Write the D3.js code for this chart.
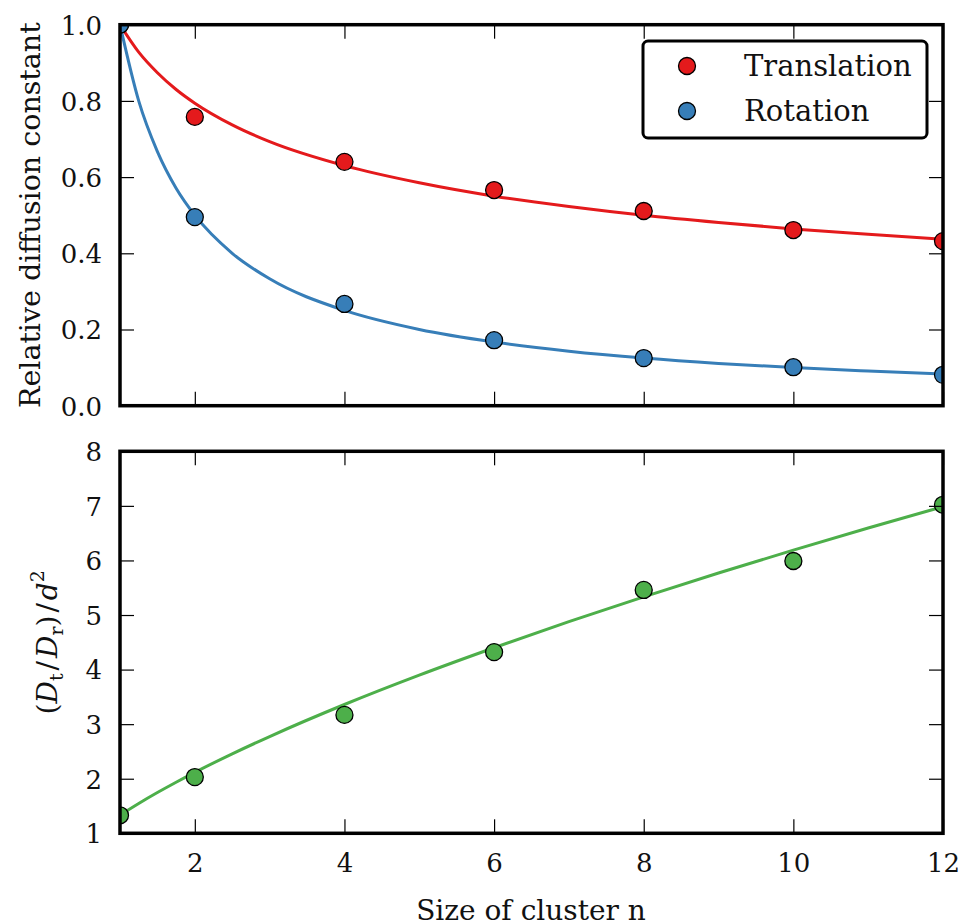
<!DOCTYPE html>
<html>
<head>
<meta charset="utf-8">
<script src="https://cdn.jsdelivr.net/npm/d3@7"></script>
<style>
  body { margin: 0; background: #fff; }
  svg text { font-family: "DejaVu Serif", serif; fill: #111; }
</style>
</head>
<body>
<svg id="chart" width="962" height="924"></svg>
<script>
// measured points
const sizes = [1, 2, 4, 6, 8, 10, 12];
const translation = [1.0, 0.758, 0.640, 0.566, 0.511, 0.461, 0.432];
const rotation = [1.0, 0.495, 0.267, 0.172, 0.125, 0.101, 0.081];
const ratio = [1.33, 2.03, 3.17, 4.32, 5.46, 5.99, 7.02];

// fitted curves
const fitN = [1, 1.25, 1.5, 1.75, 2, 2.5, 3, 4, 5, 6, 7, 8, 9, 10, 11, 12];
const fitTranslation = [1.0, 0.928, 0.874, 0.830, 0.794, 0.737, 0.693, 0.630, 0.585, 0.550, 0.523, 0.500, 0.481, 0.464, 0.450, 0.437];
const fitRotation = [1.0, 0.800, 0.667, 0.571, 0.500, 0.400, 0.333, 0.250, 0.200, 0.167, 0.143, 0.125, 0.111, 0.100, 0.091, 0.083];
const fitRatio = [1.333, 1.547, 1.747, 1.936, 2.117, 2.456, 2.773, 3.360, 3.898, 4.400, 4.878, 5.333, 5.769, 6.189, 6.594, 6.987];

const xTicks = [2, 4, 6, 8, 10, 12];
const topTicks = [0.0, 0.2, 0.4, 0.6, 0.8, 1.0];
const bottomTicks = [1, 2, 3, 4, 5, 6, 7, 8];

const red = '#e41a1c', blue = '#377eb8', green = '#4daf4a';

const svg = d3.select('#chart');
const left = 120, right = 943;

const x = d3.scaleLinear().domain([1, 12]).range([left, right]);

function panel(id, top, bottom, domain, ticks, fmt, showX){
    const y = d3.scaleLinear().domain(domain).range([bottom, top]);
    const g = svg.append('g');

    g.append('clipPath').attr('id', id)
        .append('rect')
        .attr('x', left).attr('y', top)
        .attr('width', right - left).attr('height', bottom - top);

    const plot = g.append('g').attr('clip-path', `url(#${id})`);

    // ticks inside on all four sides
    const tl = 14;
    const xb = g.append('g').attr('transform', `translate(0,${bottom})`)
        .call(d3.axisBottom(x).tickValues(xTicks).tickSize(-tl).tickFormat(showX ? d3.format('d') : ''));
    const xt = g.append('g').attr('transform', `translate(0,${top})`)
        .call(d3.axisTop(x).tickValues(xTicks).tickSize(-tl).tickFormat(''));
    const yl = g.append('g').attr('transform', `translate(${left},0)`)
        .call(d3.axisLeft(y).tickValues(ticks).tickSize(-tl).tickFormat(fmt));
    const yr = g.append('g').attr('transform', `translate(${right},0)`)
        .call(d3.axisRight(y).tickValues(ticks).tickSize(-tl).tickFormat(''));

    [xb, xt, yl, yr].forEach(a => {
        a.select('.domain').remove();
        a.selectAll('.tick line').attr('stroke', '#000').attr('stroke-width', 1.2);
        a.selectAll('.tick text')
            .style('font-family', '"DejaVu Serif", serif')
            .style('font-size', '26px')
            .attr('fill', '#111');
    });
    yl.selectAll('.tick text').attr('x', -18).attr('dy', '0.36em');
    xb.selectAll('.tick text').attr('y', 39).attr('dy', 0);

    return {g, plot, y, top, bottom};
}

function frame(p){
    p.g.append('rect')
        .attr('x', left).attr('y', p.top)
        .attr('width', right - left).attr('height', p.bottom - p.top)
        .attr('fill', 'none').attr('stroke', '#000').attr('stroke-width', 3.5);
}

function fit(p, ys, color){
    const line = d3.line().x((d, i) => x(fitN[i])).y(d => p.y(d)).curve(d3.curveMonotoneX);
    p.plot.append('path').attr('d', line(ys))
        .attr('fill', 'none').attr('stroke', color).attr('stroke-width', 3);
}

function dots(p, ys, color){
    p.plot.append('g').selectAll('circle').data(ys).join('circle')
        .attr('cx', (d, i) => x(sizes[i]))
        .attr('cy', d => p.y(d))
        .attr('r', 8.5)
        .attr('fill', color).attr('stroke', '#000').attr('stroke-width', 1.3);
}

// top panel
const p1 = panel('clip-top', 24.7, 405.7, [0, 1], topTicks, d3.format('.1f'), false);
fit(p1, fitTranslation, red);
fit(p1, fitRotation, blue);
dots(p1, translation, red);
dots(p1, rotation, blue);
frame(p1);

// legend
const lg = svg.append('g');
lg.append('rect').attr('x', 643).attr('y', 41).attr('width', 284).attr('height', 97)
    .attr('rx', 5).attr('fill', '#fff').attr('stroke', '#000').attr('stroke-width', 3);
[['Translation', red, 66], ['Rotation', blue, 111]].forEach(([name, c, yy]) => {
    lg.append('circle').attr('cx', 687).attr('cy', yy).attr('r', 8.5)
        .attr('fill', c).attr('stroke', '#000').attr('stroke-width', 1.3);
    lg.append('text').attr('x', 744).attr('y', yy + 10).attr('font-size', 29).text(name);
});

// bottom panel
const p2 = panel('clip-bottom', 451.3, 833.3, [1, 8], bottomTicks, d3.format('d'), true);
fit(p2, fitRatio, green);
dots(p2, ratio, green);
frame(p2);

// axis labels
svg.append('text')
    .attr('transform', `translate(40,${(24.7 + 405.7) / 2}) rotate(-90)`)
    .attr('text-anchor', 'middle').attr('font-size', 28.5)
    .text('Relative diffusion constant');

const yl = svg.append('text')
    .attr('transform', `translate(57,${(451.3 + 833.3) / 2}) rotate(-90)`)
    .attr('font-size', 28);
yl.append('tspan').text('(');
yl.append('tspan').attr('font-style', 'italic').text('D');
yl.append('tspan').attr('font-size', 19).attr('dy', 6).text('t');
yl.append('tspan').attr('dy', -6).attr('dx', 3).text('/');
yl.append('tspan').attr('font-style', 'italic').attr('dx', 3).text('D');
yl.append('tspan').attr('font-size', 19).attr('dy', 6).text('r');
yl.append('tspan').attr('dy', -6).text(')');
yl.append('tspan').attr('dx', 3).text('/');
yl.append('tspan').attr('font-style', 'italic').attr('dx', 3).text('d');
yl.append('tspan').attr('font-size', 19).attr('dy', -13).text('2');
const bb = yl.node().getBBox();
yl.attr('x', -(bb.x + bb.width / 2));

svg.append('text')
    .attr('x', 531).attr('y', 920)
    .attr('text-anchor', 'middle').attr('font-size', 28)
    .text('Size of cluster n');
</script>
</body>
</html>
